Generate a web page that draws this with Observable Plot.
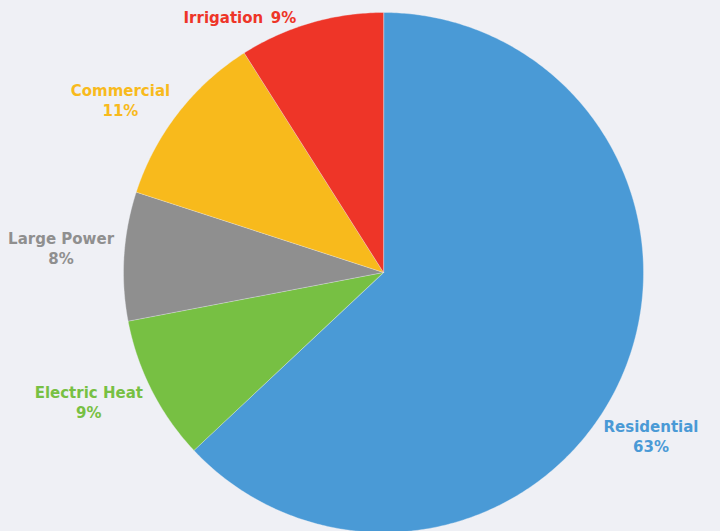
<!DOCTYPE html>
<html><head><meta charset="utf-8">
<script src="https://cdn.jsdelivr.net/npm/d3@7"></script>
<script src="https://cdn.jsdelivr.net/npm/@observablehq/plot@0.6"></script>
<style>
html,body{margin:0;padding:0;background:#eff0f5;}
#chart svg{display:block;}
</style></head><body><div id="chart"></div>
<script>
const categories = ["Residential", "Electric Heat", "Large Power", "Commercial", "Irrigation"];
const shares = [63, 9, 8, 11, 9];
const colors = ["#4a9ad6", "#77c043", "#8f8f8f", "#f8ba1c", "#ee3528"];

const W = 720, H = 531, CX = 383, CY = 272, R = 260;
const FONT = "'DejaVu Sans', sans-serif";
const FS = 15, WEIGHT = 700, GAP = 10, PAD = 22;
const total = d3.sum(shares);
const arcs = d3.pie().sort(null).value(d => d)(shares);

// slice polygons in a centered coordinate system (y up)
const poly = [];
arcs.forEach((a, i) => {
  const n = Math.max(2, Math.ceil((a.endAngle - a.startAngle) / 0.01));
  poly.push({cat: categories[i], x: 0, y: 0});
  for (let j = 0; j <= n; j++) {
    const t = a.startAngle + (a.endAngle - a.startAngle) * j / n;
    poly.push({cat: categories[i], x: R * Math.sin(t), y: R * Math.cos(t)});
  }
});

const ctx = document.createElement("canvas").getContext("2d");
ctx.font = `${WEIGHT} ${FS}px ${FONT}`;
const measure = s => ctx.measureText(s).width;

const labels = [];
const RL = R + GAP;
arcs.forEach((a, i) => {
  const m = (a.startAngle + a.endAngle) / 2;
  let s = Math.sin(m), c = Math.cos(m);
  const pct = Math.round(shares[i] / total * 100) + "%";
  const left = s < 0;
  if (Math.abs(c) > 0.9) {
    const text = categories[i] + "\u2002" + pct;
    const w = measure(text);
    const px = RL * s, py = RL * c;
    labels.push({cat: categories[i], text, x: left ? px - w / 2 - 12 : px + w / 2, y: py - 5});
  } else {
    const w = Math.max(measure(categories[i]), measure(pct));
    const room = left ? CX : W - CX;
    // slide the label along the circle if it would be cut off at the edge
    if (Math.abs(RL * s) + w > room) {
      const ns = Math.max(0, Math.min(1, (room - PAD - w) / RL));
      s = left ? -ns : ns;
      c = Math.sign(c) * Math.sqrt(1 - ns * ns);
    }
    const px = RL * s, py = RL * c;
    const xc = left ? px - w / 2 : px + w / 2;
    const yc = py + (c < 0 ? -8 : 6);
    labels.push({cat: categories[i], text: categories[i], x: xc, y: yc + 10});
    labels.push({cat: categories[i], text: pct, x: xc, y: yc - 10});
  }
});

const chart = Plot.plot({
  width: W, height: H, margin: 0,
  style: {background: "transparent"},
  x: {domain: [-CX, W - CX], axis: null},
  y: {domain: [-(H - CY), CY], axis: null},
  color: {domain: categories, range: colors},
  marks: [
    Plot.line(poly, {x: "x", y: "y", z: "cat", fill: "cat", stroke: "#eff0f5", strokeWidth: 0.5, strokeOpacity: 0.7, curve: "linear-closed"}),
    Plot.text(labels, {x: "x", y: "y", text: "text", fill: "cat", fontSize: FS, fontWeight: WEIGHT, fontFamily: FONT, textAnchor: "middle"})
  ]
});
document.getElementById("chart").append(chart);
</script>
</body></html>
